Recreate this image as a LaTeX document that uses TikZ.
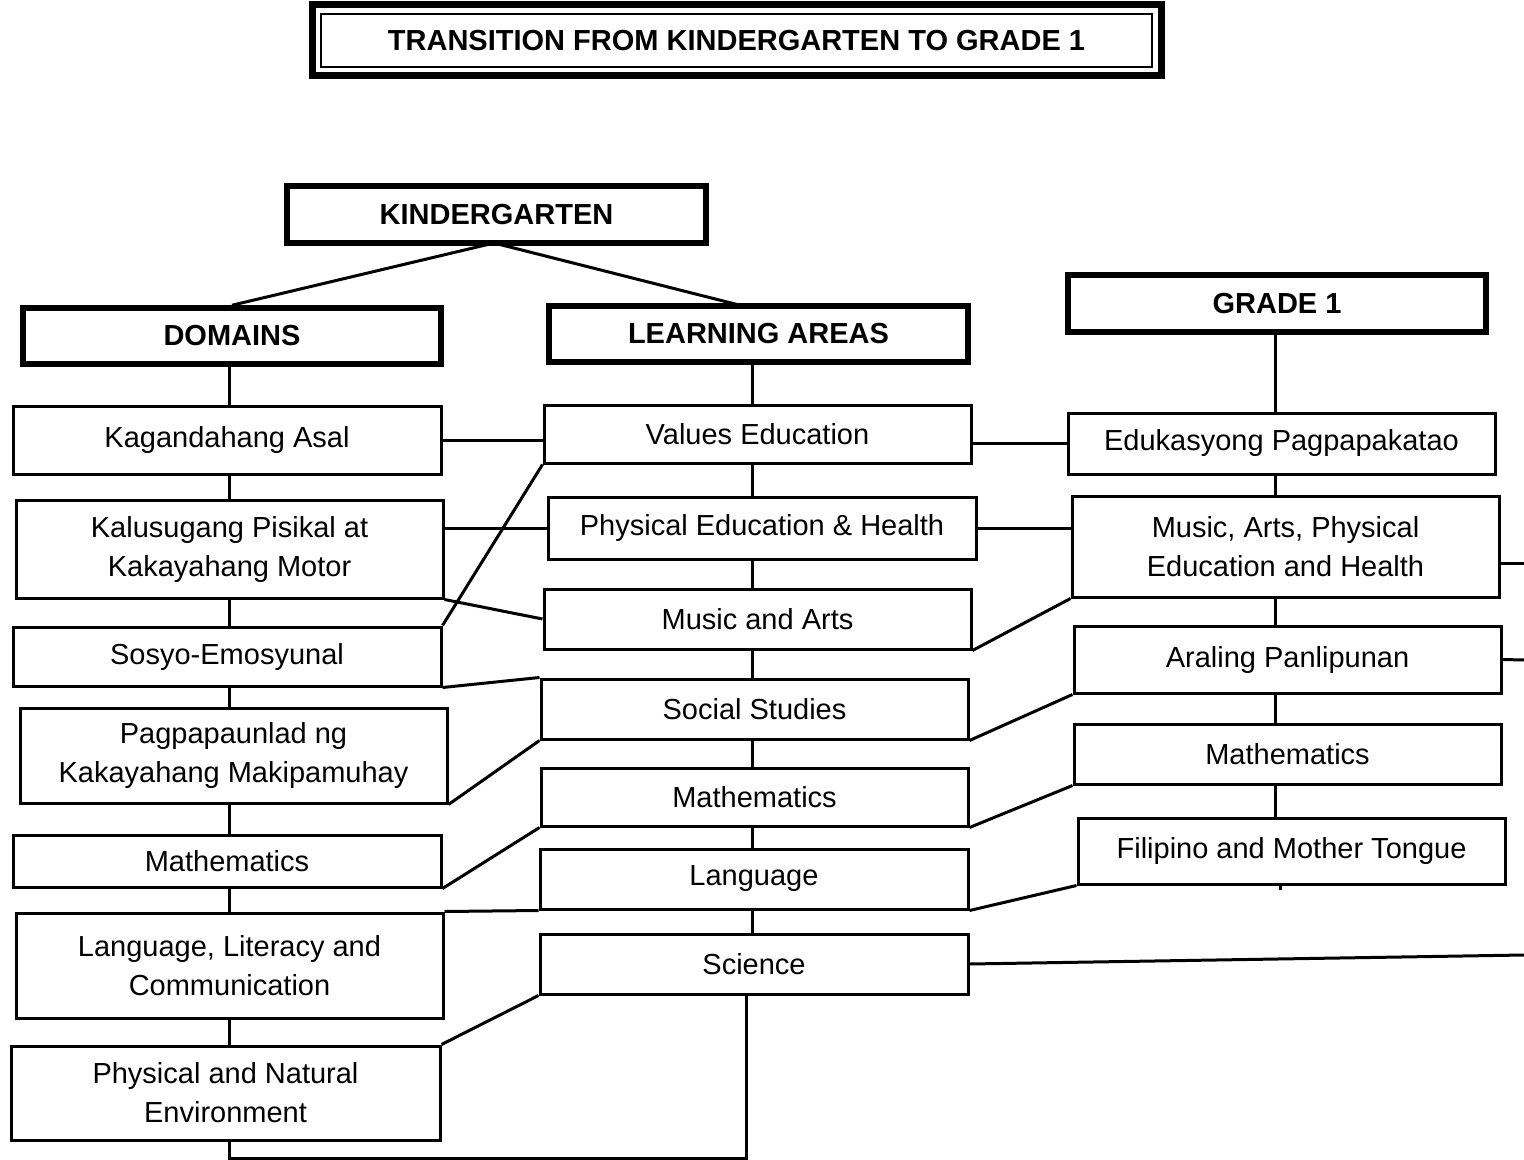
\documentclass[tikz,border=0pt]{standalone}
\usepackage{fontspec}
\setmainfont{Liberation Sans}
\usepackage{tikz}

\begin{document}
\begin{tikzpicture}[x=0.5pt, y=-0.5pt,
  block/.style={rectangle, draw, line width=1.5pt, align=center, inner sep=0pt, minimum width=213.5pt, font=\fontsize{14.5}{19.5}\selectfont},
  head/.style={block, line width=2.75pt, font=\fontsize{14.5}{19.5}\selectfont\bfseries},
  line/.style={draw, line width=1.5pt}
]
\useasboundingbox (0,0) rectangle (1524,1160);

% title
\node [block, line width=1pt, minimum width=415.5pt, minimum height=26.5pt, font=\fontsize{14.5}{19.5}\selectfont\bfseries] (title) at (736.5,40.5) {TRANSITION FROM KINDERGARTEN TO GRADE 1};
\draw [line width=3.5pt] ([xshift=-4pt,yshift=4pt]title.north west) rectangle ([xshift=4pt,yshift=-4pt]title.south east);

% headings
\node [head, minimum width=209.5pt, minimum height=28.5pt] (kinder) at (496.5,214.5) {KINDERGARTEN};
\node [head, minimum width=209pt, minimum height=28pt] (domains) at (232,336) {DOMAINS};
\node [head, minimum width=209.5pt, minimum height=28pt] (learning) at (758.5,334) {LEARNING AREAS};
\node [head, minimum width=209pt, minimum height=28.5pt] (grade) at (1277,303.5) {GRADE 1};

% domains
\node [block, minimum width=214pt, minimum height=34pt] (ka) at (227,440) {Kagandahang Asal};
\node [block, minimum height=49pt] (kp) at (229.5,549) {Kalusugang Pisikal at\\ Kakayahang Motor};
\node [block, minimum width=214pt, minimum height=29.5pt] (se) at (227,656.5) {Sosyo-Emosyunal};
\node [block, minimum height=47.5pt] (pk) at (233.5,755.5) {Pagpapaunlad ng\\ Kakayahang Makipamuhay};
\node [block, minimum width=214pt, minimum height=26pt] (dm) at (227,861) {Mathematics};
\node [block, minimum height=52.5pt] (ll) at (229.5,965.5) {Language, Literacy and\\ Communication};
\node [block, minimum width=214.5pt, minimum height=47pt] (pn) at (225.5,1093) {Physical and Natural\\ Environment};

% learning areas
\node [block, minimum height=29pt] (ve) at (757.5,434) {Values Education};
\node [block, minimum width=214pt, minimum height=31pt] (peh) at (762,528) {Physical Education \& Health};
\node [block, minimum height=30pt] (ma) at (757.5,619) {Music and Arts};
\node [block, minimum height=30pt] (ss) at (754.5,709) {Social Studies};
\node [block, minimum height=29pt] (lm) at (754.5,797) {Mathematics};
\node [block, minimum width=214pt, minimum height=30pt] (lang) at (754,879) {Language};
\node [block, minimum width=214pt, minimum height=30pt] (sci) at (754,964) {Science};

% grade 1
\node [block, minimum height=30.5pt] (ep) at (1281.5,443.5) {Edukasyong Pagpapakatao};
\node [block, minimum height=50.5pt] (mapeh) at (1285.5,546.5) {Music, Arts, Physical\\ Education and Health};
\node [block, minimum height=33.5pt] (ap) at (1287.5,659.5) {Araling Panlipunan};
\node [block, minimum height=30pt] (gm) at (1287.5,754) {Mathematics};
\node [block, minimum height=33pt] (fm) at (1291.5,851) {Filipino and Mother Tongue};

\coordinate (lx) at (229,0);
\coordinate (mx) at (752,0);
\coordinate (rx) at (1275,0);
\coordinate (kfork) at (494,243);
\coordinate (laend) at (743,306);
\coordinate (lbot) at (229,1158);
\coordinate (rbot) at (746,1158);
\coordinate (fmend) at (1280,890);
\coordinate (mapehend) at (1524,563);
\coordinate (apend) at (1524,660);
\coordinate (sciend) at (1524,955);

% kindergarten branches
\path [line] (kfork) -- (domains.north);
\path [line] (kfork) -- (laend);

% spines
\path [line] (lx |- domains.south) -- (lx |- ka.north);
\path [line] (lx |- ka.south) -- (lx |- kp.north);
\path [line] (lx |- kp.south) -- (lx |- se.north);
\path [line] (lx |- se.south) -- (lx |- pk.north);
\path [line] (lx |- pk.south) -- (lx |- dm.north);
\path [line] (lx |- dm.south) -- (lx |- ll.north);
\path [line] (lx |- ll.south) -- (lx |- pn.north);
\path [line] (lx |- pn.south) -- (lbot) -- (rbot) -- (rbot |- sci.south);
\path [line] (mx |- learning.south) -- (mx |- ve.north);
\path [line] (mx |- ve.south) -- (mx |- peh.north);
\path [line] (mx |- peh.south) -- (mx |- ma.north);
\path [line] (mx |- ma.south) -- (mx |- ss.north);
\path [line] (mx |- ss.south) -- (mx |- lm.north);
\path [line] (mx |- lm.south) -- (mx |- lang.north);
\path [line] (mx |- lang.south) -- (mx |- sci.north);
\path [line] (rx |- grade.south) -- (rx |- ep.north);
\path [line] (rx |- ep.south) -- (rx |- mapeh.north);
\path [line] (rx |- mapeh.south) -- (rx |- ap.north);
\path [line] (rx |- ap.south) -- (rx |- gm.north);
\path [line] (rx |- gm.south) -- (rx |- fm.north);
\path [line] (fm.south -| fmend) -- (fmend);

% domains to learning areas
\path [line] (ka.east) -- (ka.east -| ve.west);
\path [line] (peh.west -| kp.east) -- (peh.west);
\path [line] (kp.south east) -- (ma.west);
\path [line] (se.north east) -- (ve.south west);
\path [line] (se.south east) -- (ss.north west);
\path [line] (pk.south east) -- (ss.south west);
\path [line] (dm.south east) -- (lm.south west);
\path [line] (ll.north east) -- (lang.south west);
\path [line] (pn.north east) -- (sci.south west);

% learning areas to grade 1
\path [line] (ep.west -| ve.east) -- (ep.west);
\path [line] (peh.east) -- (peh.east -| mapeh.west);
\path [line] (ma.south east) -- (mapeh.south west);
\path [line] (ss.south east) -- (ap.south west);
\path [line] (lm.south east) -- (gm.south west);
\path [line] (lang.south east) -- (fm.south west);
\path [line] (sci.east) -- (sciend);
\path [line] (mapehend -| mapeh.east) -- (mapehend);
\path [line] (ap.east) -- (apend);
\end{tikzpicture}
\end{document}
